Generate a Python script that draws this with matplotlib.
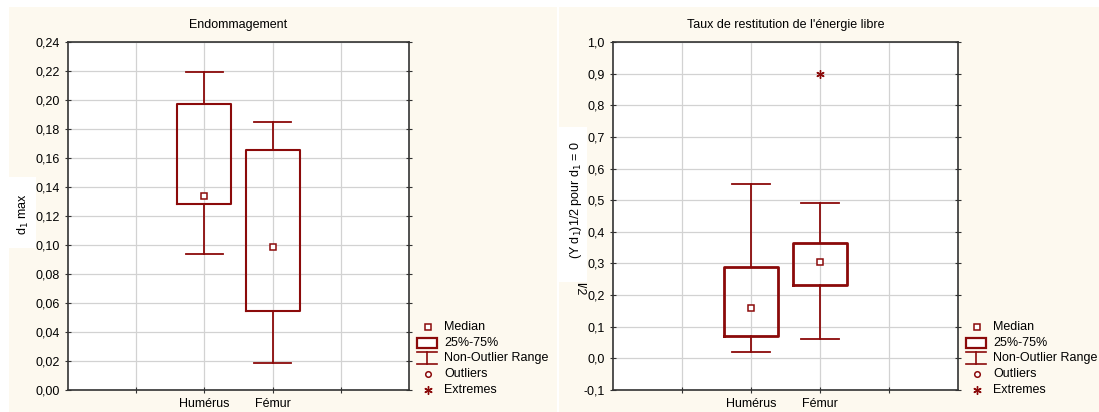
import matplotlib.pyplot as plt
from matplotlib.patches import Rectangle
from matplotlib.lines import Line2D
from matplotlib.ticker import FuncFormatter

plt.rcParams['font.family'] = ['Liberation Sans', 'DejaVu Sans']

W, H = 1099, 412
red = '#8b0a0a'
cream = '#fdf9ef'

categories = ['Humérus', 'Fémur']
positions = [2, 3]

# Endommagement (d1 max)
dmg_whislo = [0.094, 0.0186]
dmg_q1 = [0.128, 0.0545]
dmg_med = [0.134, 0.0986]
dmg_q3 = [0.1975, 0.1655]
dmg_whishi = [0.219, 0.1848]
dmg_ext = [[], []]

# Taux de restitution de l'energie libre
taux_whislo = [0.021, 0.061]
taux_q1 = [0.0717, 0.232]
taux_med = [0.159, 0.304]
taux_q3 = [0.290, 0.365]
taux_whishi = [0.550, 0.490]
taux_ext = [[], [0.9]]

legend_labels = ['Median', '25%-75%', 'Non-Outlier Range', 'Outliers', 'Extremes']


def fx(x):
    return x / W


def fy(y):
    return 1 - y / H


fig = plt.figure(figsize=(W / 100, H / 100), dpi=100, facecolor='white')

# cream panels
fig.patches.append(Rectangle((fx(9), 0), fx(557) - fx(9), fy(7), transform=fig.transFigure,
                             facecolor=cream, edgecolor='none', zorder=-10))
fig.patches.append(Rectangle((fx(559), 0), 1 - fx(559), fy(7), transform=fig.transFigure,
                             facecolor=cream, edgecolor='none', zorder=-10))
# white boxes behind y labels
fig.patches.append(Rectangle((0, fy(248)), fx(36), fy(177) - fy(248), transform=fig.transFigure,
                             facecolor='white', edgecolor='none', zorder=-5))
fig.patches.append(Rectangle((fx(558), fy(282)), fx(587) - fx(558), fy(127) - fy(282),
                             transform=fig.transFigure, facecolor='white', edgecolor='none', zorder=-5))


def make_panel(left, right, title, lo, q1, med, q3, hi, ext, ylim, yticks, fmt, boxlw):
    ax = fig.add_axes([fx(left), fy(390), fx(right) - fx(left), fy(42) - fy(390)])
    stats = []
    for i in range(len(categories)):
        stats.append(dict(med=med[i], q1=q1[i], q3=q3[i], whislo=lo[i], whishi=hi[i],
                          fliers=ext[i], label=categories[i]))
    ax.bxp(stats, positions=positions, widths=0.79, showfliers=True,
           boxprops=dict(color=red, linewidth=boxlw),
           whiskerprops=dict(color=red, linewidth=1.3),
           capprops=dict(color=red, linewidth=1.3),
           capwidths=0.55,
           medianprops=dict(visible=False),
           flierprops=dict(marker=(6, 2, 0), markeredgecolor=red, markersize=6,
                           markeredgewidth=1.0, linestyle='none'))
    ax.plot(positions, med, 's', mfc='white', mec=red, ms=4.5, mew=1.1, zorder=5)
    ax.set_xlim(0, 5)
    ax.set_ylim(*ylim)
    ax.set_xticks([1, 2, 3, 4])
    ax.set_xticklabels(['', categories[0], categories[1], ''])
    ax.set_yticks(yticks)
    ax.yaxis.set_major_formatter(FuncFormatter(lambda v, p: (fmt % v).replace('.', ',')))
    ax.grid(True, color='#d2d2d2', linewidth=0.9)
    ax.set_axisbelow(True)
    ax.tick_params(labelsize=9, length=4, direction='inout', right=True, top=False,
                   colors='#333333', labelcolor='black', pad=4)
    for s in ax.spines.values():
        s.set_color('#333333')
        s.set_linewidth(1.2)
    ax.set_title(title, fontsize=9, pad=10)
    return ax


make_panel(68, 409, 'Endommagement', dmg_whislo, dmg_q1, dmg_med, dmg_q3, dmg_whishi, dmg_ext,
           (0, 0.24), [i * 0.02 for i in range(13)], '%.2f', 1.5)
make_panel(613, 958, "Taux de restitution de l'énergie libre", taux_whislo, taux_q1, taux_med,
           taux_q3, taux_whishi, taux_ext, (-0.1, 1.0), [i * 0.1 - 0.1 for i in range(12)], '%.1f', 2.0)

fig.text(fx(23), fy(214), r'd$_1$ max', rotation=90, fontsize=9, ha='center', va='center')
fig.text(fx(576), fy(200), r'(Y d$_1$)1/2 pour d$_1$ = 0', rotation=90, fontsize=9,
         ha='center', va='center')
fig.text(fx(579), fy(289), 'l/2', rotation=-90, fontsize=9, ha='center', va='center')


def draw_legend(mx, tx, y0):
    tr = fig.transFigure
    dy = 15.7
    ys = [y0 + i * dy for i in range(5)]
    fig.add_artist(Line2D([fx(mx)], [fy(ys[0])], marker='s', mfc='white', mec=red, ms=4,
                          mew=1.1, transform=tr))
    fig.add_artist(Rectangle((fx(mx - 11), fy(ys[1] + 5)), fx(20), fy(ys[1] - 5) - fy(ys[1] + 5),
                             transform=tr, facecolor='white', edgecolor=red, linewidth=1.6))
    yb = ys[2]
    fig.add_artist(Line2D([fx(mx - 11), fx(mx + 9)], [fy(yb - 6), fy(yb - 6)], color=red, lw=1.2,
                          transform=tr))
    fig.add_artist(Line2D([fx(mx - 1), fx(mx - 1)], [fy(yb - 6), fy(yb + 6)], color=red, lw=1.2,
                          transform=tr))
    fig.add_artist(Line2D([fx(mx - 11), fx(mx + 9)], [fy(yb + 6), fy(yb + 6)], color=red, lw=1.2,
                          transform=tr))
    fig.add_artist(Line2D([fx(mx)], [fy(ys[3])], marker='o', mfc='white', mec=red, ms=4,
                          mew=1.1, transform=tr))
    fig.add_artist(Line2D([fx(mx)], [fy(ys[4])], marker=(6, 2, 0), mec=red, ms=6,
                          mew=1.0, transform=tr))
    for y, lab in zip(ys, legend_labels):
        fig.text(fx(tx), fy(y), lab, fontsize=9, ha='left', va='center')


draw_legend(428, 444, 327)
draw_legend(977, 993, 327)

fig.savefig('out.png', dpi=100, facecolor='white')
